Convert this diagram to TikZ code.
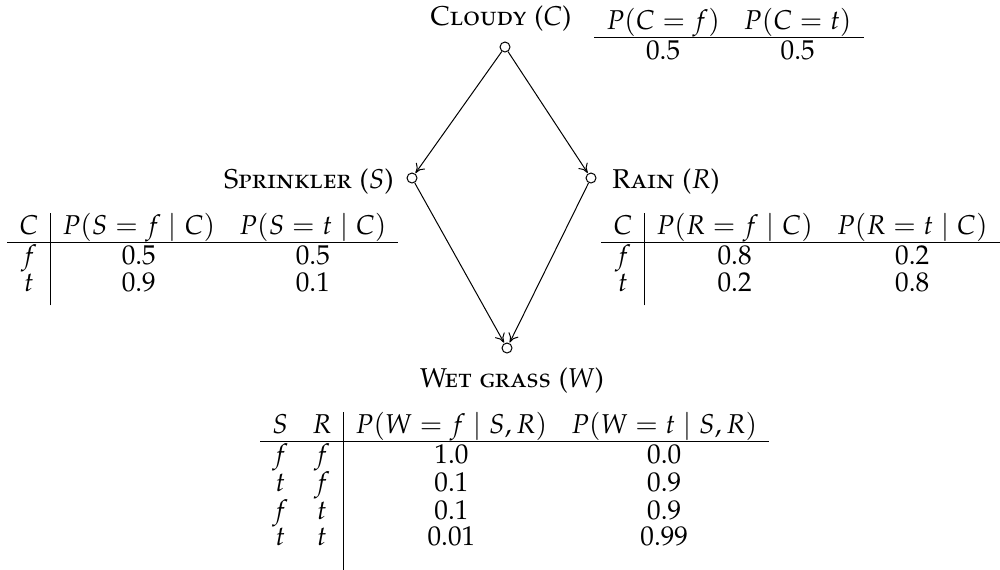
\documentclass[tikz,border=0pt]{standalone}
\usepackage[T1]{fontenc}
\usepackage[sc]{mathpazo}
\usetikzlibrary{arrows.meta}
\setlength{\arrayrulewidth}{0.5pt}
\newcommand{\firstrow}{\rule{0pt}{11pt}}
\begin{document}
\begin{tikzpicture}[x=0.5pt,y=-0.5pt,
  font=\fontsize{13.6}{13}\selectfont,
  var/.style={circle,draw,inner sep=0pt,minimum size=5pt,line width=0.5pt},
  lbl/.style={inner sep=0pt},
  cpt/.style={inner sep=0pt},
  edge/.style={-{To[length=4.5pt,width=5.5pt]},line width=0.5pt,shorten >=0.3pt}]
\useasboundingbox (0,0) rectangle (1000,569);
\node[var] (C) at (505,47) {};
\node[var] (S) at (412,178) {};
\node[var] (R) at (591,178) {};
\node[var] (W) at (507,348) {};
\draw[edge] (C) -- (S);
\draw[edge] (C) -- (R);
\draw[edge] (S) -- (W);
\draw[edge] (R) -- (W);
\node[lbl,anchor=base] (Clab) at (501,25) {\textsc{Cloudy} ($C$)};
\node[lbl,anchor=base east] (Slab) at (394,188) {\textsc{Sprinkler} ($S$)};
\node[lbl,anchor=base west] (Rlab) at (612,188) {\textsc{Rain} ($R$)};
\node[lbl,anchor=base] (Wlab) at (512,387) {\textsc{Wet grass} ($W$)};
\node[cpt,anchor=base west] (Ctab) at (594,29) {\begin{tabular}[t]{cc}
$P(C=f)$ & $P(C=t)$\\\hline
0.5\firstrow & 0.5
\end{tabular}};
\node[cpt,anchor=base west] (Stab) at (7,234) {\begin{tabular}[t]{c|cc}
$C$ & $P(S=f\mid C)$ & $P(S=t\mid C)$\\\hline
$f$\firstrow & 0.5 & 0.5\\
$t$ & 0.9 & 0.1\rule[-7pt]{0pt}{0pt}
\end{tabular}};
\node[cpt,anchor=base east] (Rtab) at (1000,234) {\begin{tabular}[t]{c|cc}
$C$ & $P(R=f\mid C)$ & $P(R=t\mid C)$\\\hline
$f$\firstrow & 0.8 & 0.2\\
$t$ & 0.2 & 0.8\rule[-7pt]{0pt}{0pt}
\end{tabular}};
\node[cpt,anchor=base west] (Wtab) at (260,433) {\begin{tabular}[t]{cc|cc}
$S$ & $R$ & $P(W=f\mid S,R)$ & $P(W=t\mid S,R)$\\\hline
$f$\firstrow & $f$ & 1.0 & 0.0\\
$t$ & $f$ & 0.1 & 0.9\\
$f$ & $t$ & 0.1 & 0.9\\
$t$ & $t$ & 0.01 & 0.99\rule[-12pt]{0pt}{0pt}
\end{tabular}};
\end{tikzpicture}
\end{document}
